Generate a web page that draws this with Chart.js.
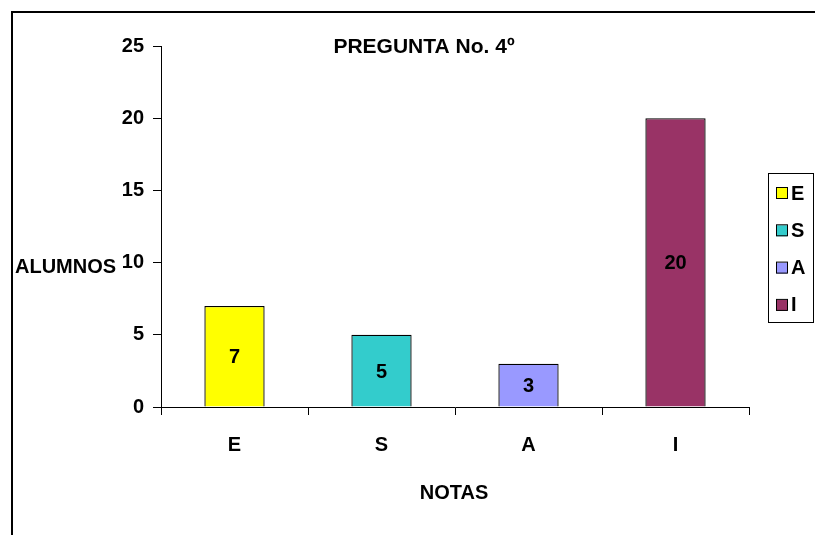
<!DOCTYPE html>
<html>
<head>
<meta charset="utf-8">
<script src="https://cdn.jsdelivr.net/npm/chart.js@4.4.1/dist/chart.umd.min.js"></script>
<style>
  html, body { margin: 0; padding: 0; background: #fff; }
  #wrap { position: relative; width: 815px; height: 535px; }
  canvas { display: block; }
</style>
</head>
<body>
<div id="wrap"><canvas id="c" width="815" height="535"></canvas></div>
<script>
// Notas de los alumnos, pregunta 4
const categories = ['E', 'S', 'A', 'I'];
const alumnos = [7, 5, 3, 20];
const barColors = ['#FFFF00', '#33CCCC', '#9999FF', '#993366'];
const yTicks = [0, 5, 10, 15, 20, 25];

const chartTitle = 'PREGUNTA No. 4º';
const yTitle = 'ALUMNOS';
const xTitle = 'NOTAS';

const FONT = '"Liberation Sans", Arial, sans-serif';

// Outer frame, axis titles, chart title, value labels and the legend box
const decorations = {
  id: 'decorations',
  beforeDraw(chart) {
    const ctx = chart.ctx;
    ctx.save();
    ctx.fillStyle = '#fff';
    ctx.fillRect(0, 0, chart.width, chart.height);
    ctx.strokeStyle = '#000';
    ctx.lineWidth = 2;
    ctx.beginPath();
    ctx.moveTo(12, chart.height);
    ctx.lineTo(12, 12);
    ctx.lineTo(chart.width, 12);
    ctx.stroke();
    ctx.restore();
  },
  afterDatasetsDraw(chart) {
    const ctx = chart.ctx;
    const meta = chart.getDatasetMeta(0);
    ctx.save();
    ctx.fillStyle = '#000';
    ctx.font = 'bold 20px ' + FONT;
    ctx.textAlign = 'center';
    ctx.textBaseline = 'middle';
    meta.data.forEach((bar, i) => {
      const v = chart.data.datasets[0].data[i];
      ctx.fillText(String(v), bar.x, (bar.y + bar.base) / 2 + 1.5);
    });
    ctx.restore();
  },
  afterDraw(chart) {
    const ctx = chart.ctx;
    ctx.save();
    ctx.fillStyle = '#000';
    ctx.textBaseline = 'middle';

    ctx.font = 'bold 21px ' + FONT;
    ctx.textAlign = 'center';
    ctx.fillText(chartTitle, 424, 47);

    ctx.font = 'bold 20px ' + FONT;
    ctx.fillText(xTitle, 454, 493);

    ctx.textAlign = 'left';
    ctx.fillText(yTitle, 15, 267);

    // legend
    const lx = 768, ly = 173, lw = 45, lh = 149;
    ctx.strokeStyle = '#000';
    ctx.lineWidth = 1;
    ctx.strokeRect(lx + 0.5, ly + 0.5, lw, lh);
    categories.forEach((c, i) => {
      const cy = 193 + i * 37.3;
      ctx.fillStyle = barColors[i];
      ctx.fillRect(776, cy - 5, 11, 11);
      ctx.strokeRect(776.5, cy - 5.5, 11, 11);
      ctx.fillStyle = '#000';
      ctx.font = 'bold 20px ' + FONT;
      ctx.fillText(c, 791, cy + 1);
    });
    ctx.restore();
  }
};

new Chart(document.getElementById('c'), {
  type: 'bar',
  data: {
    labels: categories,
    datasets: [{
      data: alumnos,
      backgroundColor: barColors,
      borderColor: '#000',
      borderWidth: 1.3,
      barPercentage: 0.41,
      categoryPercentage: 1
    }]
  },
  options: {
    responsive: false,
    animation: false,
    events: [],
    layout: { padding: { top: 46, right: 66, left: 0, bottom: 0 } },
    plugins: {
      legend: { display: false },
      title: { display: false },
      tooltip: { enabled: false }
    },
    scales: {
      x: {
        type: 'category',
        offset: true,
        grid: {
          offset: true,
          drawOnChartArea: false,
          drawTicks: true,
          tickLength: 8,
          color: '#000'
        },
        border: { display: true, color: '#000', width: 1 },
        ticks: {
          color: '#000',
          padding: 18,
          font: { family: FONT, size: 20, weight: 'bold' }
        },
        afterFit(scale) { scale.height = 128; }
      },
      y: {
        min: 0,
        max: 25,
        afterBuildTicks(scale) { scale.ticks = yTicks.map(v => ({ value: v })); },
        grid: {
          drawOnChartArea: false,
          drawTicks: true,
          tickLength: 8,
          color: '#000'
        },
        border: { display: true, color: '#000', width: 1 },
        ticks: {
          color: '#000',
          padding: 9,
          font: { family: FONT, size: 20, weight: 'bold' }
        },
        afterFit(scale) { scale.width = 161; }
      }
    }
  },
  plugins: [decorations]
});
</script>
</body>
</html>
